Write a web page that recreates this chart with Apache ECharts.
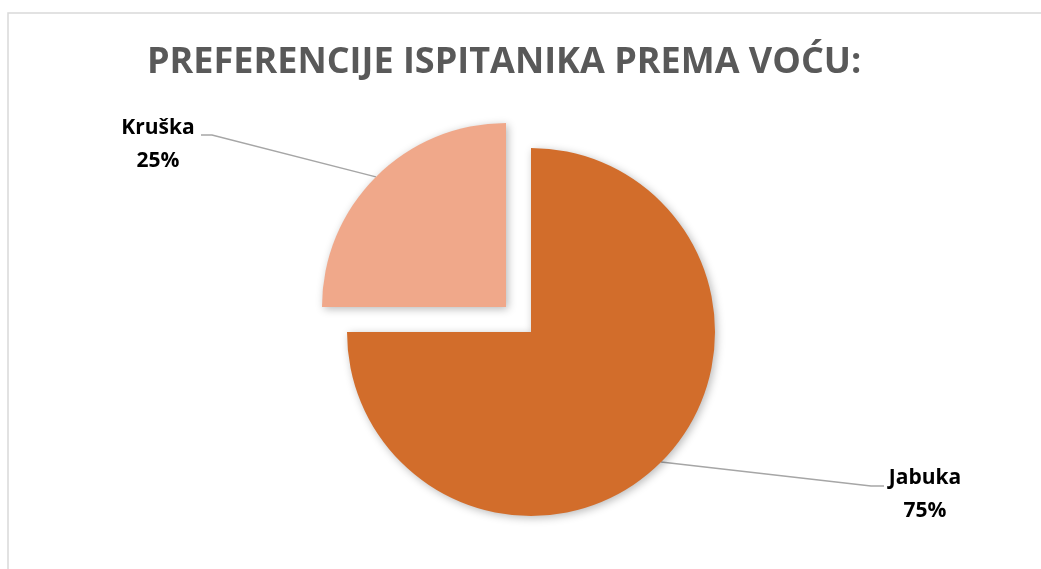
<!DOCTYPE html>
<html>
<head>
<meta charset="utf-8">
<script src="https://cdn.jsdelivr.net/npm/echarts@6/dist/echarts.min.js"></script>
<style>
  html, body { margin: 0; padding: 0; background: #fff; }
  #chart { width: 1041px; height: 569px; }
</style>
</head>
<body>
<div id="chart"></div>
<script>
var titleText = 'PREFERENCIJE ISPITANIKA PREMA VOĆU:';
var fruitNames = ['Jabuka', 'Kruška'];
var fruitValues = [75, 25];
var fruitColors = ['#D26D2B', '#F0A88A'];

// gdje stoje natpisi i gdje im se lomi linija
var labelSpots = {
    'Jabuka': { x: 925, y: 495, bend: [871, 486], end: [884, 486] },
    'Kruška': { x: 158, y: 145, bend: [212, 135], end: [201, 135] }
};

var myChart = echarts.init(document.getElementById('chart'));

// jedna serija po kriški, druga kriška ostaje prozirna (izvučeni dio)
function buildData(visibleIndex) {
    var out = [];
    for (var i = 0; i < fruitNames.length; i++) {
        if (i == visibleIndex) {
            out.push({
                name: fruitNames[i],
                value: fruitValues[i],
                itemStyle: {
                    color: fruitColors[i],
                    shadowBlur: 8,
                    shadowColor: 'rgba(0,0,0,0.28)',
                    shadowOffsetX: 2,
                    shadowOffsetY: 2
                }
            });
        } else {
            out.push({
                name: fruitNames[i],
                value: fruitValues[i],
                itemStyle: { color: 'rgba(0,0,0,0)' },
                label: { show: false },
                labelLine: { show: false },
                silent: true
            });
        }
    }
    return out;
}

function placeLabel(params) {
    var spot = labelSpots[fruitNames[params.dataIndex]];
    if (!spot) return {};
    var start = params.labelLinePoints ? params.labelLinePoints[0] : [spot.bend[0], spot.bend[1]];
    return {
        x: spot.x,
        y: spot.y,
        align: 'center',
        verticalAlign: 'middle',
        labelLinePoints: [start, spot.bend, spot.end]
    };
}

var labelStyle = {
    show: true,
    position: 'outside',
    formatter: '{b}\n{d}%',
    fontFamily: 'Open Sans',
    fontWeight: 'bold',
    fontSize: 21,
    lineHeight: 33,
    color: '#000'
};

var lineStyle = {
    show: true,
    length: 20,
    length2: 10,
    lineStyle: { color: '#A6A6A6', width: 1.5 }
};

var option = {
    backgroundColor: '#fff',
    animation: false,
    title: {
        text: titleText,
        left: 142,
        top: 40,
        textStyle: {
            fontFamily: 'Open Sans',
            fontWeight: 'bold',
            fontSize: 36,
            color: '#595959'
        }
    },
    graphic: [{
        type: 'rect',
        shape: { x: 8, y: 13, width: 1100, height: 620 },
        style: { fill: 'none', stroke: '#D9D9D9', lineWidth: 1.5 },
        silent: true
    }],
    series: [{
        type: 'pie',
        center: [531, 332],
        radius: 184,
        startAngle: 90,
        clockwise: true,
        avoidLabelOverlap: false,
        label: labelStyle,
        labelLine: lineStyle,
        labelLayout: placeLabel,
        emphasis: { disabled: true },
        data: buildData(0)
    }, {
        type: 'pie',
        center: [506, 307],
        radius: 184,
        startAngle: 90,
        clockwise: true,
        avoidLabelOverlap: false,
        label: labelStyle,
        labelLine: lineStyle,
        labelLayout: placeLabel,
        emphasis: { disabled: true },
        data: buildData(1)
    }]
};

myChart.setOption(option);
</script>
</body>
</html>
